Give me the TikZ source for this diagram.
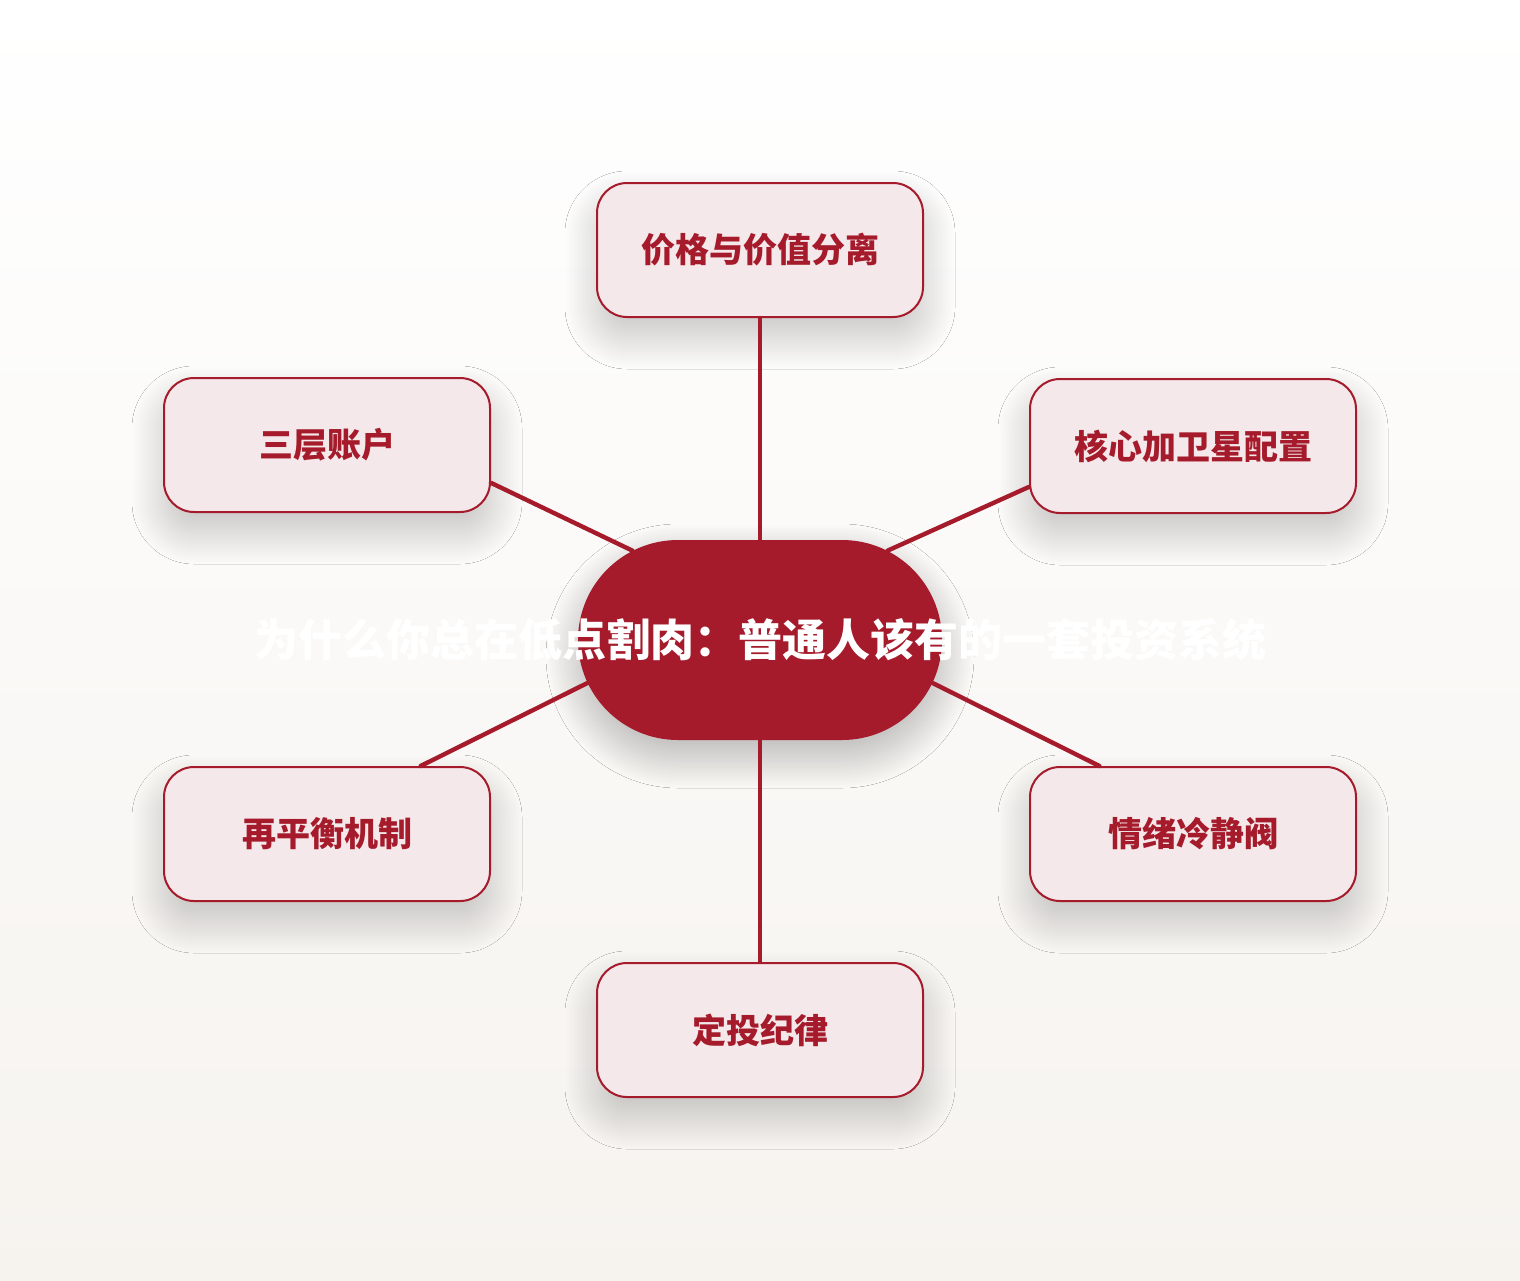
\documentclass[tikz,border=0pt]{standalone}
\usepackage{fontspec}
\newfontfamily\cjk{Noto Sans CJK SC}
\usetikzlibrary{shapes.misc,shadows.blur}
\definecolor{wine}{HTML}{A51B2B}
\definecolor{blush}{HTML}{F4E8EA}
\definecolor{paper}{HTML}{F6F3EF}

\begin{document}
\begin{tikzpicture}[x=0.5pt, y=-0.5pt,
    hub/.style={rounded rectangle, fill=wine, minimum width=182pt, minimum height=100pt, inner sep=0pt,
        blur shadow={shadow xshift=0pt, shadow yshift=-8pt, shadow blur radius=16pt, shadow blur steps=40, shadow opacity=28},
        font=\cjk\bfseries\fontsize{22}{22}\selectfont, text=white},
    topic/.style={draw=wine, line width=1pt, fill=blush, rounded corners=15pt, minimum width=163pt, minimum height=67pt,
        blur shadow={shadow xshift=0pt, shadow yshift=-10pt, shadow blur radius=16pt, shadow blur steps=40, shadow opacity=22},
        font=\cjk\bfseries\fontsize{17}{17}\selectfont, text=wine},
    link/.style={draw=wine, line width=2.2pt, line cap=round}]
    % background
    \fill[top color=white, bottom color=paper] (0,0) rectangle (1520,1280);
    \useasboundingbox (0,0) rectangle (1520,1280);

    \node[hub] (core) at (760,640) {\makebox[0pt]{为什么你总在低点割肉：普通人该有的一套投资系统}};

    \node[topic] (price) at (760,250) {价格与价值分离};
    \node[topic] (tiers) at (327,445) {三层账户};
    \node[topic] (satellite) at (1193,446) {核心加卫星配置};
    \node[topic] (rebalance) at (327,834) {再平衡机制};
    \node[topic] (calm) at (1193,834) {情绪冷静阀};
    \node[topic] (dca) at (760,1030) {定投纪律};

    \draw[link] (core.north) -- (price.south);
    \draw[link] (core.145) -- (tiers.347);
    \draw[link] (core.35) -- (satellite.194);
    \draw[link] (core.194) -- (rebalance.36);
    \draw[link] (core.346) -- (calm.144);
    \draw[link] (core.south) -- (dca.north);
\end{tikzpicture}
\end{document}
